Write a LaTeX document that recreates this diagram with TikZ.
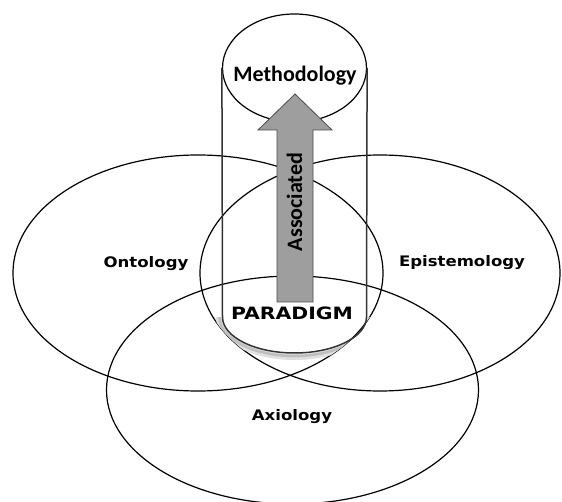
\documentclass[tikz,border=0pt]{standalone}
\usepackage{fontspec}
\newfontfamily\labelfont{DejaVu Sans}
\newfontfamily\calfont{Carlito}
\usetikzlibrary{shapes.geometric}

\tikzset{
  ring/.style={draw=black, line width=1.2pt, ellipse, inner sep=0pt},
  tube/.style={draw=black!80, line width=1.5pt},
  sidelabel/.style={font=\labelfont\bfseries\fontsize{14.5}{16}\selectfont, xscale=1.14, inner sep=0pt},
  biglabel/.style={font=\labelfont\bfseries\fontsize{17}{19}\selectfont, xscale=1.2, inner sep=0pt},
  callabel/.style={font=\calfont\bfseries\fontsize{22}{24}\selectfont, inner sep=0pt},
  blockarrow/.style={fill=black!38, draw=black!70, line width=0.8pt, line join=miter}
}

\begin{document}
\begin{tikzpicture}[x=1pt,y=-1pt]
\useasboundingbox (0,0) rectangle (562,502);
\fill[white] (0,0) rectangle (562,502);

% the three overlapping ellipses
\node[ring, minimum width=370pt, minimum height=236pt] (onto) at (198,273) {};
\node[ring, minimum width=360pt, minimum height=236pt] (epis) at (380,273) {};
\node[ring, minimum width=372pt, minimum height=228pt] (axio) at (292.5,390) {};

% soft shadow inside the lens below the tube
\begin{scope}
  \clip (198,273) ellipse [x radius=185, y radius=118];
  \clip (380,273) ellipse [x radius=180, y radius=118];
  \draw[black!12, line width=6pt]
    (219,317) arc [start angle=180, end angle=0, x radius=75.5, y radius=40];
  \draw[black!25, line width=2.5pt]
    (219.5,317) arc [start angle=180, end angle=0, x radius=75, y radius=39];
\end{scope}

% methodology ellipse and the tube below it
\node[ring, minimum width=144pt, minimum height=108pt] (meth) at (294.5,68) {};
\draw[tube] (meth.west) -- (222.5,317)
  arc [start angle=180, end angle=0, x radius=72, y radius=36] -- (meth.east);

% upward block arrow
\draw[blockarrow] (277,302) -- (277,130) -- (258,130) -- (295,94)
  -- (332,130) -- (313,130) -- (313,302) -- cycle;

% labels
\node[callabel] (methtext) at (295,76) {Methodology};
\node[callabel, rotate=90] (assoc) at (294.5,202) {Associated};
\node[biglabel] (paradigm) at (292,313) {PARADIGM};
\node[sidelabel] (ontotext) at (146,264) {Ontology};
\node[sidelabel] (epistext) at (462,263) {Epistemology};
\node[sidelabel] (axiotext) at (292,417) {Axiology};
\end{tikzpicture}
\end{document}
